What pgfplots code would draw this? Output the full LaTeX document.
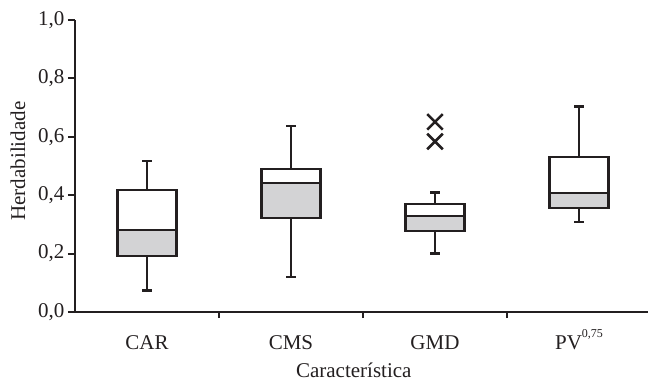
\documentclass[border=0pt]{standalone}
\usepackage{pgfplots}
\pgfplotsset{compat=1.18}
\usepgfplotslibrary{statistics}
\usepackage{fontspec}
\setmainfont{Liberation Serif}
\definecolor{boxgray}{RGB}{211,211,213}
\definecolor{ink}{RGB}{35,31,32}
\newcommand{\bigf}{\fontsize{21bp}{25bp}\selectfont}
\begin{document}
\begin{tikzpicture}
\begin{axis}[
  at={(0,0)}, anchor=south west,
  scale only axis, width=576bp, height=292bp,
  xmin=-0.5, xmax=3.5, ymin=0, ymax=1,
  axis x line*=bottom, axis y line*=left,
  axis line style={line width=2.2bp, draw=ink},
  every tick/.style={line width=2.2bp, draw=ink},
  tick align=outside,
  ytick={0,0.2,0.4,0.6,0.8,1.0},
  major tick length=7bp,
  yticklabel style={font=\bigf, text=ink, /pgf/number format/.cd, use comma, fixed, fixed zerofill, precision=1, assume math mode=true},
  xtick={0,1,2,3},
  xticklabels={CAR,CMS,GMD,{PV\raisebox{12bp}{\fontsize{12bp}{14bp}\selectfont 0,75}}},
  x tick style={draw=none},
  extra x ticks={0.5,1.5,2.5},
  extra x tick labels={},
  extra x tick style={x tick style={draw=ink, line width=2.2bp}, major tick length=6bp},
  xticklabel style={anchor=base, yshift=-30bp, text=ink, font=\bigf},
  ylabel={Herdabilidade},
  xlabel={Característica},
  ylabel style={at={(axis description cs:-0.099,0.517)}, anchor=center, text=ink, font=\bigf},
  xlabel style={at={(axis description cs:0.484,-0.199)}, anchor=center, text=ink, font=\bigf},
  boxplot/draw direction=y,
  boxplot/box extend=0.41,
  boxplot/whisker extend=0.065,
  boxplot/every whisker/.style={line width=2.8bp, draw=ink},
  boxplot/every box/.style={line width=2.2bp, draw=ink},
  boxplot/every median/.style={line width=2.2bp, draw=ink},
  clip=false,
]
% CAR
\addplot[draw=ink, fill=white, line width=2.2bp, boxplot prepared={draw position=0,
  lower whisker=0.075, lower quartile=0.192, median=0.281, upper quartile=0.418, upper whisker=0.517}] coordinates {};
\addplot[draw=ink, fill=boxgray, line width=2.2bp, boxplot prepared={draw position=0,
  lower whisker=0.281, lower quartile=0.192, median=0.281, upper quartile=0.281, upper whisker=0.281, whisker extend=0}] coordinates {};
% CMS
\addplot[draw=ink, fill=white, line width=2.2bp, boxplot prepared={draw position=1,
  lower whisker=0.120, lower quartile=0.322, median=0.442, upper quartile=0.490, upper whisker=0.637}] coordinates {};
\addplot[draw=ink, fill=boxgray, line width=2.2bp, boxplot prepared={draw position=1,
  lower whisker=0.442, lower quartile=0.322, median=0.442, upper quartile=0.442, upper whisker=0.442, whisker extend=0}] coordinates {};
% GMD
\addplot[draw=ink, fill=white, line width=2.2bp, mark=x, mark size=11bp, mark options={line width=2.6bp, solid, draw=ink},
  boxplot prepared={draw position=2,
  lower whisker=0.199, lower quartile=0.277, median=0.329, upper quartile=0.370, upper whisker=0.408}]
  table[row sep=\\, y index=0] {0.651\\ 0.584\\};
\addplot[draw=ink, fill=boxgray, line width=2.2bp, boxplot prepared={draw position=2,
  lower whisker=0.329, lower quartile=0.277, median=0.329, upper quartile=0.329, upper whisker=0.329, whisker extend=0}] coordinates {};
% PV
\addplot[draw=ink, fill=white, line width=2.2bp, boxplot prepared={draw position=3,
  lower whisker=0.308, lower quartile=0.356, median=0.408, upper quartile=0.531, upper whisker=0.705}] coordinates {};
\addplot[draw=ink, fill=boxgray, line width=2.2bp, boxplot prepared={draw position=3,
  lower whisker=0.408, lower quartile=0.356, median=0.408, upper quartile=0.408, upper whisker=0.408, whisker extend=0}] coordinates {};
\end{axis}
\pgfresetboundingbox
\path (-75bp,-70bp) rectangle (573bp,312bp);
\end{tikzpicture}
\end{document}
